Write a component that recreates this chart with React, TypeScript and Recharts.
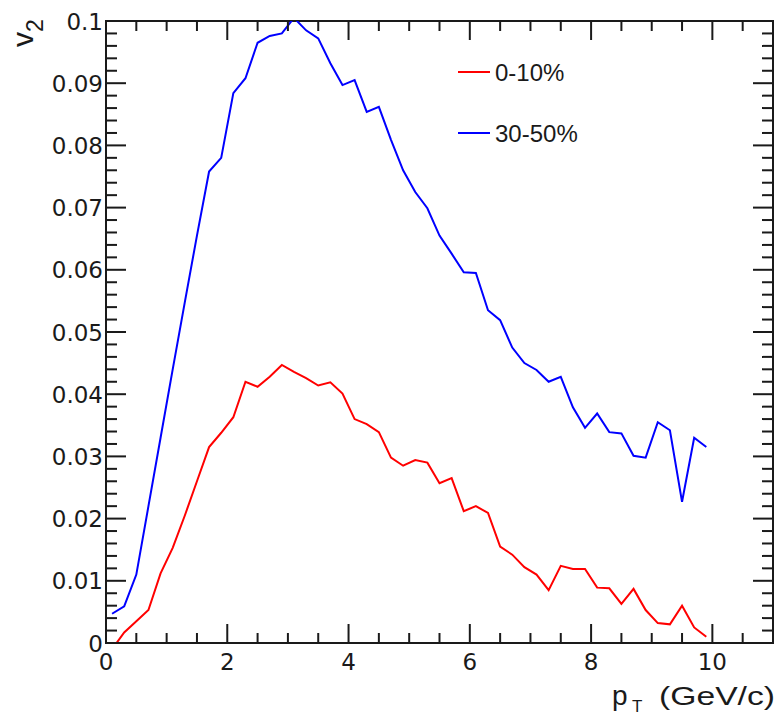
import { LineChart, Line, XAxis, YAxis, ReferenceArea, Legend } from "recharts";

// pT bin centres (GeV/c)
const PT = [
  0.1, 0.3, 0.5, 0.7, 0.9, 1.1, 1.3, 1.5, 1.7, 1.9,
  2.1, 2.3, 2.5, 2.7, 2.9, 3.1, 3.3, 3.5, 3.7, 3.9,
  4.1, 4.3, 4.5, 4.7, 4.9, 5.1, 5.3, 5.5, 5.7, 5.9,
  6.1, 6.3, 6.5, 6.7, 6.9, 7.1, 7.3, 7.5, 7.7, 7.9,
  8.1, 8.3, 8.5, 8.7, 8.9, 9.1, 9.3, 9.5, 9.7, 9.9,
];

// v2, 0-10% centrality
const V2_0_10 = [
  -0.001, 0.0017, 0.0035, 0.0053, 0.0112, 0.0153, 0.0205, 0.026, 0.0315, 0.0338,
  0.0363, 0.042, 0.0412, 0.0428, 0.0447, 0.0436, 0.0426, 0.0414, 0.0419, 0.0401,
  0.036, 0.0352, 0.0339, 0.0298, 0.0285, 0.0294, 0.029, 0.0257, 0.0265, 0.0212,
  0.022, 0.0209, 0.0155, 0.0142, 0.0122, 0.011, 0.0085, 0.0124, 0.0119, 0.0119,
  0.0089, 0.0088, 0.0063, 0.0087, 0.0053, 0.0032, 0.003, 0.006, 0.0025, 0.001,
];

// v2, 30-50% centrality
const V2_30_50 = [
  0.0047, 0.0059, 0.011, 0.022, 0.033, 0.044, 0.0548, 0.0655, 0.0758, 0.078,
  0.0884, 0.0908, 0.0965, 0.0976, 0.098, 0.1005, 0.0985, 0.0972, 0.0932, 0.0897,
  0.0905, 0.0854, 0.0862, 0.0809, 0.076, 0.0725, 0.0699, 0.0655, 0.0626, 0.0596,
  0.0595, 0.0535, 0.0519, 0.0475, 0.045, 0.0439, 0.042, 0.0428, 0.0379, 0.0346,
  0.0369, 0.0339, 0.0337, 0.0301, 0.0298, 0.0355, 0.0342, 0.0227, 0.033, 0.0315,
];

const SERIES_NAMES = ["0-10%", "30-50%"];
const SERIES_COLORS = ["#ff0000", "#0000ff"];

const X_MAJOR = [0, 2, 4, 6, 8, 10];
const X_LABELS = ["0", "2", "4", "6", "8", "10"];
const Y_MAJOR = [0, 0.01, 0.02, 0.03, 0.04, 0.05, 0.06, 0.07, 0.08, 0.09, 0.1];
const Y_LABELS = ["0", "0.01", "0.02", "0.03", "0.04", "0.05", "0.06", "0.07", "0.08", "0.09", "0.1"];

// minor ticks every 0.5 on x, every 0.002 on y
const X_TICKS = Array.from({ length: 23 }, (_, i) => i * 0.5);
const Y_TICKS = Array.from({ length: 51 }, (_, i) => +(i * 0.002).toFixed(3));

const data = PT.map((pt, i) => ({ pt, c010: V2_0_10[i], c3050: V2_30_50[i] }));

const W = 778;
const H = 716;
const TOP = 21;
const RIGHT = 773;
const AXIS = "#1a1a1a";
const TICK_FONT = "'DejaVu Sans', sans-serif";
const TEXT_FONT = "'Liberation Sans', Arial, sans-serif";

const findMajor = (list: number[], v: number) => list.findIndex((m) => Math.abs(m - v) < 1e-9);

function XTick({ x, y, payload }: any) {
  const idx = findMajor(X_MAJOR, payload.value);
  const len = idx >= 0 ? 19 : 10;
  return (
    <g>
      <line x1={x} x2={x} y1={y} y2={y - len} stroke={AXIS} strokeWidth={2} />
      <line x1={x} x2={x} y1={TOP} y2={TOP + len} stroke={AXIS} strokeWidth={2} />
      {idx >= 0 && (
        <text x={x} y={y + 27} textAnchor="middle" fontSize={23} fontFamily={TICK_FONT} fill={AXIS}>
          {X_LABELS[idx]}
        </text>
      )}
    </g>
  );
}

function YTick({ x, y, payload }: any) {
  const idx = findMajor(Y_MAJOR, payload.value);
  const len = idx >= 0 ? 20 : 11;
  return (
    <g>
      <line x1={x} x2={x + len} y1={y} y2={y} stroke={AXIS} strokeWidth={2} />
      <line x1={RIGHT} x2={RIGHT - len} y1={y} y2={y} stroke={AXIS} strokeWidth={2} />
      {idx >= 0 && (
        <text x={x - 3} y={y + 8.5} textAnchor="end" fontSize={23} fontFamily={TICK_FONT} fill={AXIS}>
          {Y_LABELS[idx]}
        </text>
      )}
    </g>
  );
}

function YTitle() {
  return (
    <text
      x={33}
      y={47}
      transform="rotate(-90 33 47)"
      fontSize={30}
      fontFamily={TEXT_FONT}
      fill={AXIS}
    >
      v
      <tspan fontSize={23} dy={10}>2</tspan>
    </text>
  );
}

function XTitle() {
  return (
    <g fontFamily={TEXT_FONT} fill={AXIS}>
      <text x={612} y={705} fontSize={28}>p</text>
      <text x={632} y={712} fontSize={17}>T</text>
      <text x={775} y={705} fontSize={26} textAnchor="end" textLength={116} lengthAdjust="spacingAndGlyphs">
        (GeV/c)
      </text>
    </g>
  );
}

function LegendBox() {
  return (
    <svg width={200} height={110}>
      {SERIES_NAMES.map((name, i) => (
        <g key={name}>
          <line x1={8} x2={40} y1={22 + i * 61} y2={22 + i * 61} stroke={SERIES_COLORS[i]} strokeWidth={2} />
          <text x={45} y={31 + i * 61} fontSize={24} fontFamily={TEXT_FONT} fill={AXIS}>
            {name}
          </text>
        </g>
      ))}
    </svg>
  );
}

export default function App() {
  return (
    <div style={{ position: "absolute", left: 0, top: 0, width: W, height: H, background: "#fff" }}>
      <LineChart width={W} height={H} data={data} margin={{ top: TOP, right: W - RIGHT, bottom: 0, left: 0 }}>
        <XAxis
          dataKey="pt"
          type="number"
          domain={[0, 11]}
          ticks={X_TICKS}
          interval={0}
          allowDataOverflow
          height={73}
          axisLine={false}
          tickLine={false}
          tickSize={0}
          tickMargin={0}
          tick={(p: any) => <XTick {...p} />}
          label={{ content: () => <XTitle /> }}
        />
        <YAxis
          type="number"
          domain={[0, 0.1]}
          ticks={Y_TICKS}
          interval={0}
          allowDataOverflow
          width={106}
          axisLine={false}
          tickLine={false}
          tickSize={0}
          tickMargin={0}
          tick={(p: any) => <YTick {...p} />}
          label={{ content: () => <YTitle /> }}
        />
        <ReferenceArea x1={0} x2={11} y1={0} y2={0.1} fill="none" stroke={AXIS} strokeWidth={2} />
        <Line
          dataKey="c010"
          name={SERIES_NAMES[0]}
          stroke={SERIES_COLORS[0]}
          strokeWidth={2}
          dot={false}
          type="linear"
          isAnimationActive={false}
        />
        <Line
          dataKey="c3050"
          name={SERIES_NAMES[1]}
          stroke={SERIES_COLORS[1]}
          strokeWidth={2}
          dot={false}
          type="linear"
          isAnimationActive={false}
        />
        <Legend
          layout="horizontal"
          verticalAlign="middle"
          align="center"
          wrapperStyle={{ left: 450, top: 50, width: 200, height: 110 }}
          content={() => <LegendBox />}
        />
      </LineChart>
    </div>
  );
}
